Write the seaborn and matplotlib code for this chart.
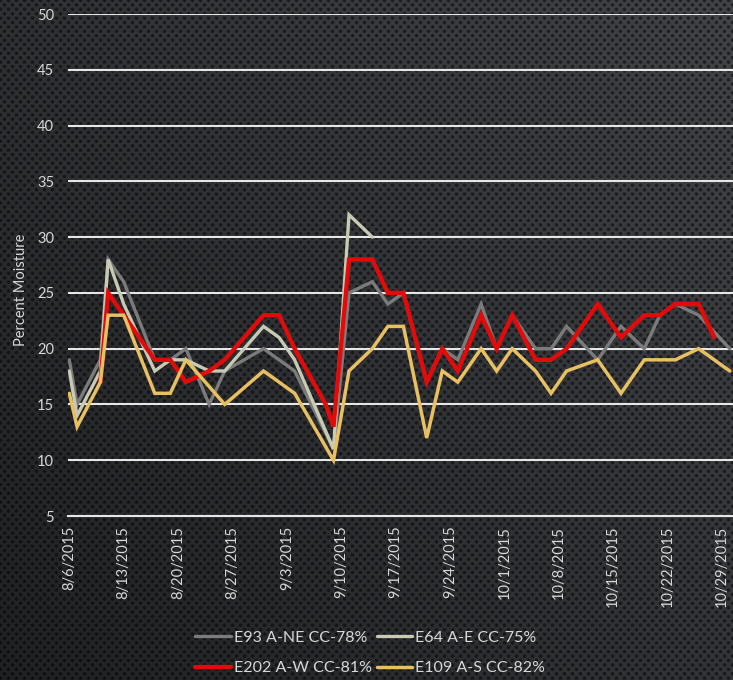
import numpy as np
import pandas as pd
import matplotlib
matplotlib.use("Agg")
import matplotlib.pyplot as plt
from matplotlib.lines import Line2D
import seaborn as sns

# sampling dates (shared by all four probes)
dates = ["2015-08-06", "2015-08-07", "2015-08-10", "2015-08-11", "2015-08-13",
         "2015-08-17", "2015-08-19", "2015-08-21", "2015-08-24", "2015-08-26",
         "2015-08-31", "2015-09-02", "2015-09-04", "2015-09-08", "2015-09-09",
         "2015-09-11", "2015-09-14", "2015-09-16", "2015-09-18", "2015-09-21",
         "2015-09-23", "2015-09-25", "2015-09-28", "2015-09-30", "2015-10-02",
         "2015-10-05", "2015-10-07", "2015-10-09", "2015-10-13", "2015-10-16",
         "2015-10-19", "2015-10-21", "2015-10-23", "2015-10-26", "2015-10-28",
         "2015-10-30"]

nan = np.nan
e93 = [19, 15, 19, 28, 26, 19, 19, 20, 15, 18, 20, 19, 18, nan, 11, 25, 26, 24,
       25, 17, 20, 19, 24, 20, 23, 20, 20, 22, 19, 22, 20, 23, 24, 23, nan, 20]
e64 = [18, 14, 18, 28, 24, 18, 19, 19, 18, 18, 22, 21, 19, nan, 11, 32, 30] + [nan] * 19
e202 = [nan, nan, 17, 25, 23, 19, 19, 17, 18, 19, 23, 23, 20, 15, 13, 28, 28, 25,
        25, 17, 20, 18, 23, 20, 23, 19, 19, 20, 24, 21, 23, 23, 24, 24, 21, nan]
e109 = [16, 13, 17, 23, 23, 16, 16, 19, nan, 15, 18, 17, 16, nan, 10, 18, 20, 22,
        22, 12, 18, 17, 20, 18, 20, 18, 16, 18, 19, 16, 19, 19, 19, 20, nan, 18]

names = ["E93 A-NE CC-78%", "E64 A-E CC-75%", "E202 A-W CC-81%", "E109 A-S CC-82%"]
colors = ["#7b7b7b", "#c9cab4", "#e50a0a", "#e8c062"]
widths = [2.4, 2.4, 3.1, 2.5]

df = pd.DataFrame({"date": pd.to_datetime(dates), names[0]: e93, names[1]: e64,
                   names[2]: e202, names[3]: e109})
long = df.melt(id_vars="date", var_name="series", value_name="moisture").dropna()

sns.set_style("white")
plt.rcParams["font.family"] = ["Lato", "DejaVu Sans"]
txt = "#d8d8d8"

fig = plt.figure(figsize=(7.33, 6.8), dpi=100)

# dark perforated background, drawn in its own axes behind the chart
H, W = 680, 733
yy, xx = np.mgrid[0:H, 0:W].astype(float)
shade = 0.55 * (xx / W) + 0.45 * (1 - yy / H)
base = 32 + 34 * shade
sx, sy = 8.0, 4.4
row = np.round(yy / sy)
cx = xx - (row % 2) * sx / 2
d = np.hypot(cx - np.round(cx / sx) * sx, yy - row * sy)
dot = np.clip(2.3 - d, 0, 1)
v = base * (1 - 0.5 * dot)
img = np.dstack([v, v * 1.03, v * 1.09]) / 255.0
bg = fig.add_axes([0, 0, 1, 1], zorder=-1)
bg.imshow(np.clip(img, 0, 1), aspect="auto", interpolation="nearest")
bg.axis("off")

ax = fig.add_axes([68 / 733, 164 / 680, 665 / 733, 502 / 680], zorder=1)
ax.set_facecolor("none")

sns.lineplot(data=long, x="date", y="moisture", hue="series", hue_order=names,
             palette=colors, errorbar=None, legend=False, ax=ax)
for line, lw in zip(ax.lines, widths):
    line.set_linewidth(lw)
    line.set_solid_joinstyle("miter")

ax.set_ylim(5, 50)
ax.set_yticks(range(5, 51, 5))
ax.set_xlim(pd.Timestamp("2015-08-06") - pd.Timedelta(hours=4),
            pd.Timestamp("2015-10-30") + pd.Timedelta(hours=10))
ticks = pd.date_range("2015-08-06", "2015-10-29", freq="7D")
ax.set_xticks(ticks)
ax.set_xticklabels([f"{t.month}/{t.day}/{t.year}" for t in ticks])

ax.yaxis.grid(True, color="#e6e6e6", linewidth=1.5)
ax.xaxis.grid(False)
for s in ["top", "right", "left"]:
    ax.spines[s].set_visible(False)
ax.spines["bottom"].set_color("#e6e6e6")
ax.spines["bottom"].set_linewidth(1.5)

ax.tick_params(axis="y", length=0, pad=10, labelsize=10.5, labelcolor=txt)
ax.tick_params(axis="x", length=5, width=1.2, color="#e6e6e6", direction="out",
               pad=2, labelsize=10.5, labelcolor=txt, labelrotation=90)
ax.set_xlabel("")
ax.set_ylabel("Percent Moisture", color=txt, fontsize=10.5)
ax.yaxis.set_label_coords(-0.06, 0.45)

handles = [Line2D([], [], color=c, lw=lw) for c, lw in zip(colors, widths)]
order = [0, 2, 1, 3]
fig.legend([handles[i] for i in order], [names[i] for i in order], ncol=2,
           loc="center", bbox_to_anchor=(0.505, 27 / 680), frameon=False,
           fontsize=11.5, labelcolor=txt, handlelength=2.2, handletextpad=0.2,
           columnspacing=0.3, labelspacing=1.0)

fig.savefig("out.png", dpi=100)
